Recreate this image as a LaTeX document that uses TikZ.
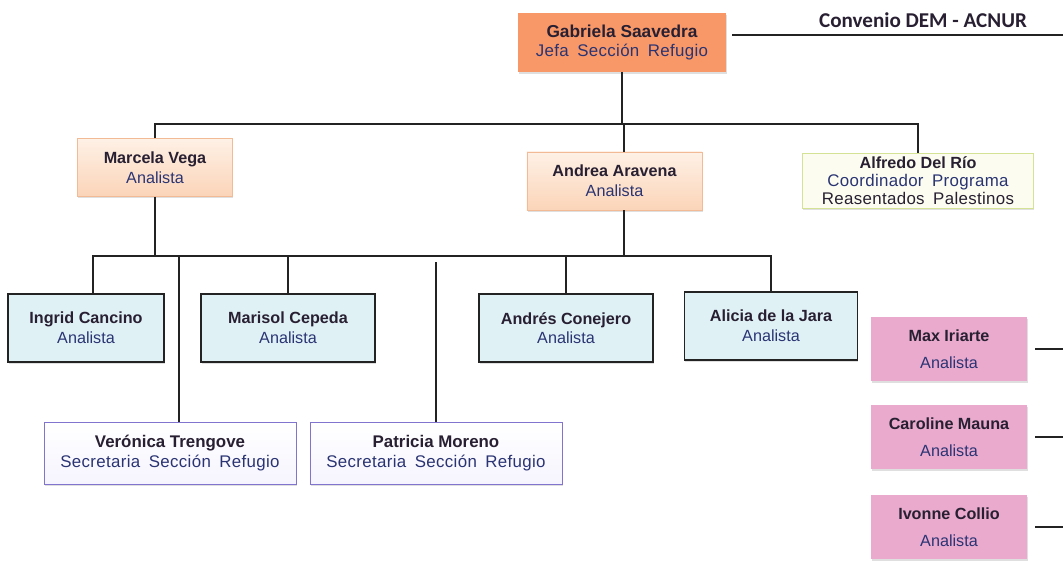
\documentclass[tikz,border=0pt]{standalone}
\usepackage{fontspec}
\setmainfont{Liberation Sans}
\newfontfamily\convfont{Carlito}
\newfontfamily\widefont[LetterSpace=2,WordSpace=1.7]{Liberation Sans}
\usetikzlibrary{calc,shadows}
\definecolor{JefaClr}{RGB}{248,152,104}
\definecolor{PeachTop}{RGB}{254,241,230}
\definecolor{PeachClr}{RGB}{251,212,184}
\definecolor{PeachLine}{RGB}{243,186,150}
\definecolor{CoordClr}{RGB}{252,253,240}
\definecolor{CoordLine}{RGB}{212,226,150}
\definecolor{AnaClr}{RGB}{224,241,246}
\definecolor{SecLine}{RGB}{128,116,206}
\definecolor{SecClr}{RGB}{246,244,254}
\definecolor{PinkClr}{RGB}{233,170,206}
\definecolor{NameClr}{RGB}{40,32,50}
\definecolor{RoleClr}{RGB}{42,52,115}
\definecolor{LineClr}{RGB}{35,35,35}
\newcommand{\persona}[3][]{{\bfseries\color{NameClr}#2}\\{\color{RoleClr}#1#3}}
\newcommand{\wide}{\widefont\fontsize{12}{14}\selectfont}

\begin{document}
\begin{tikzpicture}[x=0.025cm,y=-0.025cm,
  box/.style={rectangle,align=center,inner sep=0pt,
    font=\fontsize{11.5}{14}\selectfont,
    drop shadow={shadow xshift=.4pt,shadow yshift=-1.2pt,opacity=.25}},
  jefa/.style={box,fill=JefaClr,minimum width=5.2cm,minimum height=1.475cm,
    font=\fontsize{12.3}{14}\selectfont},
  analista/.style={box,draw=PeachLine,top color=PeachTop,bottom color=PeachClr,
    minimum height=1.46cm},
  coord/.style={box,draw=CoordLine,fill=CoordClr,minimum width=5.775cm,
    minimum height=1.375cm,font=\fontsize{12}{13}\selectfont},
  equipo/.style={box,draw=LineClr,line width=1.1pt,fill=AnaClr,minimum height=1.7cm},
  secre/.style={box,draw=SecLine,top color=white,bottom color=SecClr,
    minimum width=6.3cm,minimum height=1.55cm,font=\fontsize{12}{14}\selectfont},
  acnur/.style={box,fill=PinkClr,minimum width=3.9cm,minimum height=1.6cm,
    font=\fontsize{11.5}{19}\selectfont,drop shadow={opacity=0}},
  con/.style={draw=LineClr,line width=1pt}]
\useasboundingbox (0,0) rectangle (1063,562);

\coordinate (bus1) at (0,124);
\coordinate (bus2) at (0,256);
\coordinate (gap2) at (0,262);
\coordinate (conv) at (1063,35);
\coordinate (edge) at (1063,0);

\node[jefa] (gab) at (622,42.5) {\persona[\wide]{Gabriela Saavedra}{Jefa Sección Refugio}};
\node[font=\convfont\fontsize{15}{17}\selectfont\bfseries,text=NameClr] (convtxt) at (923,20) {Convenio DEM - ACNUR};

\node[analista,minimum width=3.875cm] (mar) at (155,167.5) {\persona{Marcela Vega}{Analista}};
\node[analista,minimum width=4.375cm] (and) at (614.5,181) {\persona{Andrea Aravena}{Analista}};
\node[coord] (alf) at (918,180.5) {{\bfseries\color{NameClr}\fontsize{11.5}{13}\selectfont Alfredo Del Río}\\{\color{RoleClr}\wide Coordinador Programa}\\{\color{NameClr}\wide Reasentados Palestinos}};

\node[equipo,minimum width=3.9cm] (ing) at (86,328) {\persona{Ingrid Cancino}{Analista}};
\node[equipo,minimum width=4.35cm] (mcp) at (288,328) {\persona{Marisol Cepeda}{Analista}};
\node[equipo,minimum width=4.35cm] (acj) at (566,328) {\persona{Andrés Conejero}{Analista}};
\node[equipo,minimum width=4.325cm] (adj) at (771,326) {\persona{Alicia de la Jara}{Analista}};

\node[secre] (ver) at (170,453) {\persona[\wide]{Verónica Trengove}{Secretaria Sección Refugio}};
\node[secre] (pat) at (436,453) {\persona[\wide]{Patricia Moreno}{Secretaria Sección Refugio}};

\node[acnur] (max) at (949,349) {\persona{Max Iriarte}{Analista}};
\node[acnur] (car) at (949,437) {\persona{Caroline Mauna}{Analista}};
\node[acnur] (ivo) at (949,527) {\persona{Ivonne Collio}{Analista}};

\path ($(and.north)+(9.5,0)$) coordinate (and-n) ($(and.south)+(9.5,0)$) coordinate (and-s)
      ($(ing.north)+(7,0)$) coordinate (ing-n) ($(ver.north)+(9,0)$) coordinate (ver-n);

\draw[con] ($(gab.east |- conv)+(6,0)$) -- (conv);
\draw[con] (gab.south) -- (gab.south |- bus1);
\draw[con] (mar.north) |- (alf.north |- bus1) -- (alf.north);
\draw[con] (and-n) -- (and-n |- bus1);

\draw[con] (ing-n) |- (adj.north |- bus2) -- (adj.north);
\draw[con] (mar.south) -- (mar.south |- bus2);
\draw[con] (and-s) -- (and-s |- bus2);
\draw[con] (ver-n) -- (ver-n |- bus2);
\foreach \n in {mcp,acj}
  \draw[con] (\n.north) -- (\n.north |- bus2);
\draw[con] (pat.north) -- (pat.north |- gap2);

\foreach \n in {max,car,ivo}
  \draw[con] ($(\n.east)+(8,0)$) -- (\n.east -| edge);
\end{tikzpicture}
\end{document}
